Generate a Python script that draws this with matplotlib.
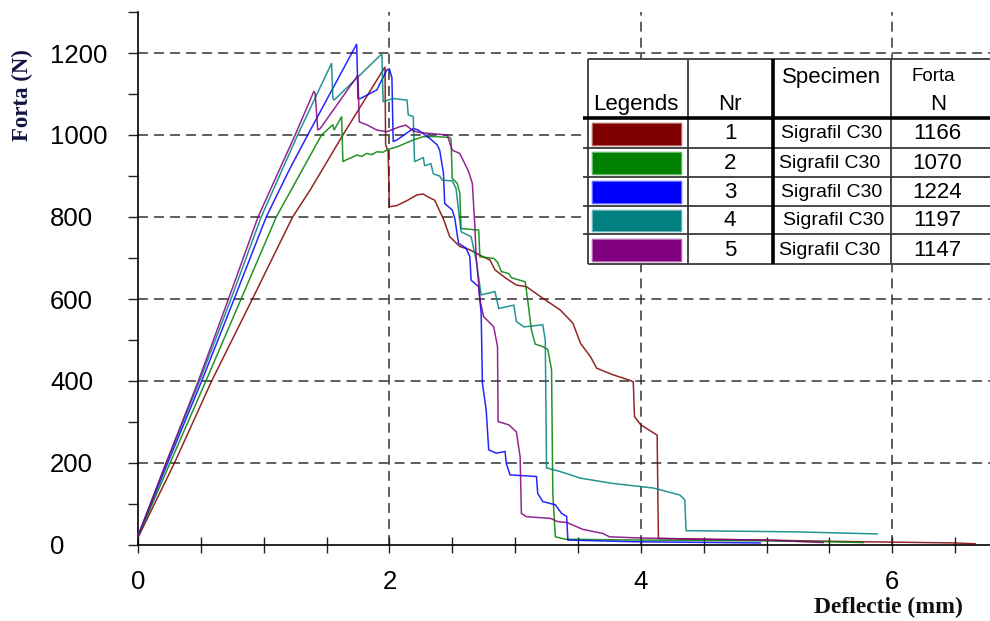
import matplotlib
matplotlib.use("Agg")
import matplotlib.pyplot as plt
from matplotlib.patches import Rectangle
from matplotlib.ticker import MultipleLocator, FixedLocator

# ---------------- data ----------------
defl_1 = [0, 0.29, 0.586, 0.91, 1.23, 1.37, 1.63, 1.965, 1.97, 1.99, 2.0, 2.06, 2.14, 2.22, 2.27, 2.30,
          2.36, 2.43, 2.48, 2.56, 2.64, 2.72, 2.80, 2.84, 2.93, 3.01, 3.09, 3.22, 3.36, 3.46, 3.52, 3.60,
          3.65, 3.78, 3.91, 3.94, 3.95, 4.0, 4.13, 4.14, 4.5, 5.0, 5.5, 6.0, 6.5, 6.66]
force_1 = [18, 200, 400, 600, 800, 866, 1000, 1166, 976, 960, 825, 828, 840, 854, 856, 850,
           841, 795, 752, 728, 720, 707, 695, 671, 650, 634, 630, 602, 573, 541, 492, 459,
           431, 415, 402, 398, 313, 293, 268, 16, 14, 12, 9, 7, 5, 3]

defl_2 = [0, 0.255, 0.54, 0.82, 1.10, 1.46, 1.55, 1.56, 1.62, 1.63, 1.66, 1.70, 1.74, 1.78, 1.82, 1.86,
          1.90, 1.95, 1.99, 2.06, 2.19, 2.27, 2.38, 2.48, 2.49, 2.50, 2.54, 2.56, 2.57, 2.71, 2.72, 2.83,
          2.86, 2.89, 2.95, 2.97, 3.08, 3.10, 3.13, 3.16, 3.22, 3.26, 3.29, 3.30, 3.32, 3.40, 4.0, 5.0,
          5.5, 5.77]
force_2 = [20, 200, 400, 600, 800, 1000, 1025, 1012, 1045, 935, 940, 945, 951, 948, 955, 952,
           959, 958, 965, 971, 988, 996, 996, 994, 990, 894, 882, 858, 772, 768, 703, 699,
           690, 667, 662, 652, 642, 598, 524, 490, 484, 477, 427, 126, 20, 14, 12, 10,
           8, 6]

defl_3 = [0, 0.236, 0.507, 0.765, 1.02, 1.21, 1.35, 1.74, 1.75, 1.77, 1.90, 1.98, 2.00, 2.02, 2.03,
          2.06, 2.19, 2.23, 2.32, 2.38, 2.40, 2.43, 2.44, 2.50, 2.52, 2.55, 2.61, 2.64, 2.65, 2.71,
          2.73, 2.74, 2.77, 2.79, 2.85, 2.92, 2.93, 2.96, 3.17, 3.18, 3.22, 3.32, 3.37, 3.41, 3.42,
          3.94, 4.95]
force_3 = [22, 200, 400, 600, 800, 919, 1000, 1222, 1089, 1089, 1110, 1159, 1161, 1140, 984,
           988, 1016, 1012, 992, 976, 963, 907, 833, 817, 797, 736, 724, 703, 646, 630,
           565, 394, 329, 232, 224, 228, 199, 171, 167, 126, 106, 98, 77, 70, 12,
           8, 5]

defl_4 = [0, 0.225, 0.49, 0.74, 0.98, 1.27, 1.54, 1.55, 1.56, 1.94, 1.95, 2.03, 2.14, 2.15, 2.19,
          2.20, 2.27, 2.28, 2.33, 2.35, 2.40, 2.42, 2.50, 2.53, 2.57, 2.65, 2.69, 2.73, 2.84, 2.87,
          2.99, 3.01, 3.07, 3.22, 3.24, 3.25, 3.36, 3.52, 3.78, 4.10, 4.31, 4.35, 4.36, 5.24, 5.88]
force_4 = [22, 200, 400, 600, 800, 1000, 1175, 1090, 1085, 1198, 1081, 1089, 1085, 1049, 1045,
           935, 945, 925, 930, 905, 900, 890, 888, 870, 764, 752, 695, 610, 618, 577,
           585, 545, 532, 537, 500, 188, 179, 163, 150, 139, 122, 110, 35, 32, 27]

defl_5 = [0, 0.223, 0.48, 0.72, 0.955, 1.25, 1.40, 1.41, 1.43, 1.45, 1.75, 1.76, 1.82, 1.90, 1.98,
          2.08, 2.13, 2.19, 2.24, 2.46, 2.50, 2.56, 2.63, 2.66, 2.68, 2.69, 2.71, 2.72, 2.75, 2.83,
          2.86, 2.865, 2.95, 3.01, 3.04, 3.05, 3.09, 3.28, 3.34, 3.41, 3.54, 3.70, 3.75, 4.0, 4.5,
          5.0, 5.45]
force_5 = [22, 200, 400, 600, 800, 1000, 1107, 1100, 1012, 1016, 1146, 1032, 1025, 1012, 1008,
           1020, 1024, 1010, 1006, 1000, 963, 955, 911, 882, 776, 703, 638, 598, 557, 532,
           484, 301, 293, 276, 215, 77, 69, 65, 57, 55, 38, 28, 20, 17, 14,
           12, 6]

series_x = [defl_1, defl_2, defl_3, defl_4, defl_5]
series_y = [force_1, force_2, force_3, force_4, force_5]
series_colors = ['#800000', '#008000', '#0000FF', '#008080', '#800080']

legend_nr = ['1', '2', '3', '4', '5']
legend_specimen = ['Sigrafil C30'] * 5
legend_forta = ['1166', '1070', '1224', '1197', '1147']

x_major = [0, 2, 4, 6]
y_major = [0, 200, 400, 600, 800, 1000, 1200]

# ---------------- figure ----------------
W, H = 990, 621
fig = plt.figure(figsize=(W / 100, H / 100), dpi=100)
fig.patch.set_facecolor('white')

L, R, T, B = 138, 990, 12, 545
ax = fig.add_axes([L / W, 1 - B / H, (R - L) / W, (B - T) / H])
ax.set_xlim(0, (R - L) / 125.7)
ax.set_ylim(0, 1300)

for xs, ys, c in zip(series_x, series_y, series_colors):
    ax.plot(xs, ys, color=c, lw=1.1, alpha=0.85, solid_joinstyle='miter', zorder=3)

for s in ['top', 'right']:
    ax.spines[s].set_visible(False)
for s in ['left', 'bottom']:
    ax.spines[s].set_linewidth(1.2)
    ax.spines[s].set_color('black')

ax.xaxis.set_major_locator(FixedLocator(x_major))
ax.xaxis.set_minor_locator(MultipleLocator(0.5))
ax.yaxis.set_major_locator(FixedLocator(y_major))
ax.yaxis.set_minor_locator(MultipleLocator(100))

ax.tick_params(axis='x', which='both', direction='inout', length=11.5, width=1.0, color='#222222')
ax.tick_params(axis='x', which='major', pad=12, labelsize=18.5)
ax.tick_params(axis='y', which='both', direction='out', length=7.2, width=1.0, color='#222222')
ax.tick_params(axis='y', which='major', pad=56, labelsize=18.5)
for lab in ax.get_yticklabels():
    lab.set_horizontalalignment('left')
for lab in ax.get_xticklabels() + ax.get_yticklabels():
    lab.set_fontfamily('Liberation Sans')

ax.grid(False)
for gx in x_major[1:]:
    ax.axvline(gx, color='#333333', lw=1.1, ls=(0, (6.5, 4)), zorder=1)
for gy in y_major[1:]:
    ax.axhline(gy, color='#333333', lw=1.1, ls=(0, (6.5, 4)), zorder=1)

fig.text(22 / W, 1 - 95 / H, 'Forta (N)', rotation=90, ha='center', va='center',
         fontfamily='Liberation Serif', fontweight='bold', fontsize=16.5, color='#141440')
fig.text(888 / W, 1 - 607 / H, 'Deflectie (mm)', ha='center', va='center',
         fontfamily='Liberation Serif', fontweight='bold', fontsize=17, color='#111111')

# ---------------- legend table ----------------
tx0, tx1, ty0, ty1 = 578, 990, 54, 268
tax = fig.add_axes([tx0 / W, 1 - ty1 / H, (tx1 - tx0) / W, (ty1 - ty0) / H])
tax.set_xlim(tx0, tx1)
tax.set_ylim(ty1, ty0)
tax.axis('off')

left, right, top, bottom = 588, 990, 59, 264
tax.add_patch(Rectangle((left, top), right - left, bottom - top, facecolor='white', edgecolor='none', zorder=0))
rows = [118.3, 147.7, 176.7, 205.7, 234.3, 264.3]
thin = dict(color='#3a3a3a', lw=1.3, solid_capstyle='butt', zorder=2)
tax.plot([left, right], [top, top], **thin)
tax.plot([left, left], [top, bottom], **thin)
tax.plot([left, right], [bottom, bottom], **thin)
for yv in rows[1:-1]:
    tax.plot([583, right], [yv, yv], **thin)
tax.plot([583, right], [rows[0], rows[0]], color='black', lw=2.6, solid_capstyle='butt', zorder=3)
tax.plot([688, 688], [top, bottom], **thin)
tax.plot([891, 891], [top, bottom], **thin)
tax.plot([772.7, 772.7], [top, bottom], color='black', lw=2.6, solid_capstyle='butt', zorder=3)

sans = 'Liberation Sans'
tax.text(593, 110, 'Legends', ha='left', va='baseline', fontsize=16, fontfamily=sans)
tax.text(730, 110, 'Nr', ha='center', va='baseline', fontsize=16, fontfamily=sans)
tax.text(832, 83, 'Specimen', ha='center', va='baseline', fontsize=16, fontfamily=sans)
tax.text(933, 81, 'Forta', ha='center', va='baseline', fontsize=13.5, fontfamily=sans)
tax.text(938, 110, 'N', ha='center', va='baseline', fontsize=16, fontfamily=sans)

spec_dx = [0, -2, 0, 1.5, -2]
for i, (nr, sp, fv, c) in enumerate(zip(legend_nr, legend_specimen, legend_forta, series_colors)):
    r0, r1 = rows[i], rows[i + 1]
    tax.add_patch(Rectangle((592, r0 + 4.5), 89, (r1 - r0) - 7.5, facecolor=c,
                            edgecolor=c, lw=1.0, alpha=1, zorder=2))
    tax.add_patch(Rectangle((592, r0 + 4.5), 89, (r1 - r0) - 7.5, facecolor='none',
                            edgecolor='white', lw=0.6, alpha=0.5, zorder=2))
    cy = (r0 + r1) / 2 + 1
    tax.text(730, cy, nr, ha='center', va='center', fontsize=16, fontfamily=sans)
    tax.text(832 + spec_dx[i], cy, sp, ha='center', va='center', fontsize=14, fontfamily=sans)
    tax.text(937.5, cy, fv, ha='center', va='center', fontsize=16, fontfamily=sans)

fig.savefig('out.png', dpi=100, facecolor='white')
